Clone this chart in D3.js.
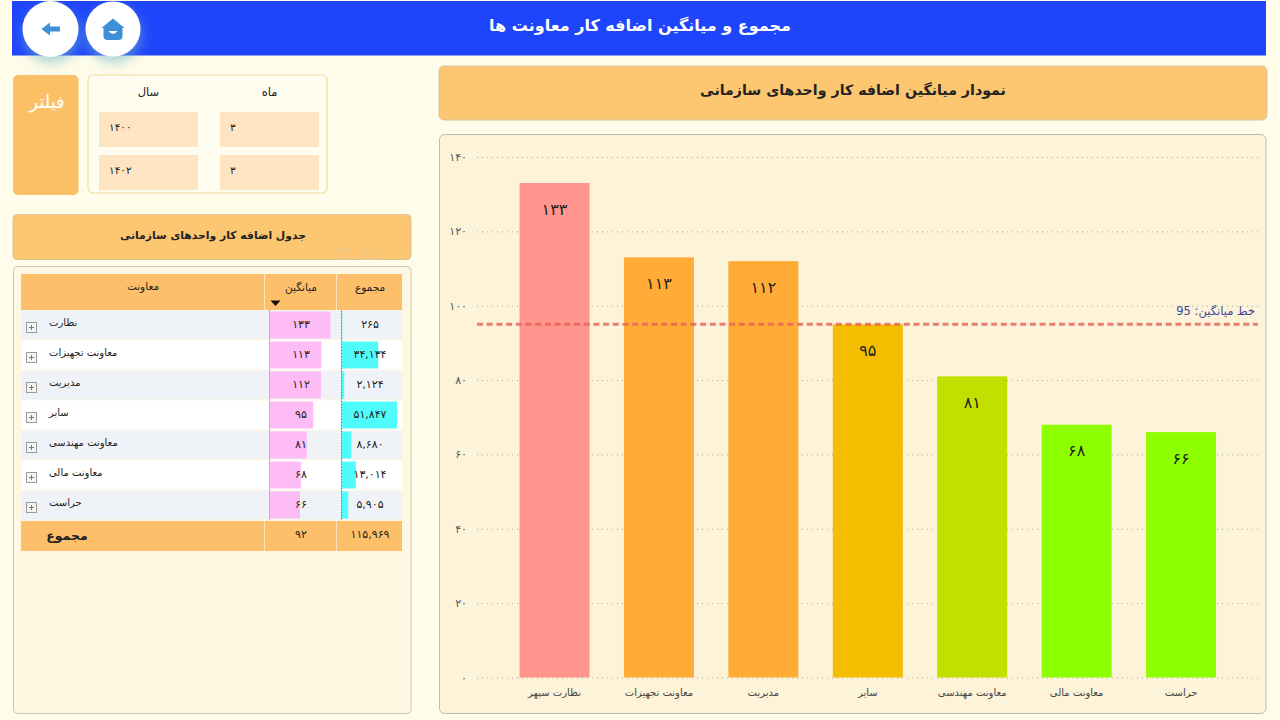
<!DOCTYPE html>
<html lang="fa">
<head>
<meta charset="utf-8">
<title>مجموع و میانگین اضافه کار معاونت ها</title>
<script src="https://cdn.jsdelivr.net/npm/d3@7"></script>
<style>
  html, body { margin: 0; padding: 0; background: #fffce9; overflow: hidden; }
  svg { display: block; }
  text { font-family: "DejaVu Sans", sans-serif; fill: #222; }
</style>
</head>
<body>
<svg id="chart" width="1280" height="720"></svg>
<script>
const pageTitle = "مجموع و میانگین اضافه کار معاونت ها";
const chartTitle = "نمودار میانگین اضافه کار واحدهای سازمانی";
const tableTitle = "جدول اضافه کار واحدهای سازمانی";

const categories = ["نظارت سپهر", "معاونت تجهیزات", "مدیریت", "سایر", "معاونت مهندسی", "معاونت مالی", "حراست"];
const averages = [133, 113, 112, 95, 81, 68, 66];
const barColors = ["#ff958c", "#ffab36", "#ffab36", "#f4be00", "#c1e000", "#8eff00", "#8eff00"];
const yTicks = [0, 20, 40, 60, 80, 100, 120, 140];
const averageLine = 95;

const tableNames = ["نظارت", "معاونت تجهیزات", "مدیریت", "سایر", "معاونت مهندسی", "معاونت مالی", "حراست"];
const totals = [265, 34134, 2124, 51847, 8680, 13014, 5905];
const tableColumns = ["معاونت", "میانگین", "مجموع"];
const footerLabel = "مجموع";
const footerAverage = 92;
const footerTotal = 115969;

const filterLabel = "فیلتر";
const filterColumns = ["سال", "ماه"];
const filterYears = [1400, 1402];
const filterMonths = [3, 3];

const svg = d3.select("#chart");

// Persian digits, the source shows everything but the average label this way
const toFa = v => String(v).replace(/\d/g, c => "۰۱۲۳۴۵۶۷۸۹"[+c]);
const faNum = v => toFa(d3.format(",")(v));

function box(parent, x, y, w, h, fill, stroke, r) {
  return parent.append("rect")
    .attr("x", x).attr("y", y).attr("width", w).attr("height", h)
    .attr("rx", r || 0)
    .attr("fill", fill)
    .attr("stroke", stroke || "none");
}

function label(parent, x, y, str, size, opts) {
  opts = opts || {};
  return parent.append("text")
    .attr("x", x).attr("y", y)
    .attr("text-anchor", opts.anchor || "middle")
    .attr("dominant-baseline", "central")
    .attr("direction", "rtl")
    .attr("font-size", size)
    .attr("font-weight", opts.weight || "normal")
    .style("fill", opts.fill || "#222")
    .text(str);
}

function drawHeader() {
  const defs = svg.append("defs");
  const shadow = defs.append("filter").attr("id", "btnShadow")
    .attr("x", "-50%").attr("y", "-50%").attr("width", "200%").attr("height", "200%");
  shadow.append("feDropShadow")
    .attr("dx", 1).attr("dy", 6).attr("stdDeviation", 6)
    .attr("flood-color", "#6fb6c9").attr("flood-opacity", 0.6);

  box(svg, 12, 1, 1254, 54.5, "#1e45fb");
  label(svg, 640, 25, pageTitle, 16, {weight: "bold", fill: "#fff"});

  svg.append("circle").attr("cx", 50.5).attr("cy", 29).attr("r", 28)
    .attr("fill", "#fff").attr("filter", "url(#btnShadow)");
  svg.append("circle").attr("cx", 113).attr("cy", 29).attr("r", 27.5)
    .attr("fill", "#fff").attr("filter", "url(#btnShadow)");

  // back arrow
  svg.append("path")
    .attr("d", "M41.5 29 L50 22.5 L50 26.5 L60 26.5 L60 31.5 L50 31.5 L50 35.5 Z")
    .attr("fill", "#3d8fd6");
  // home icon
  svg.append("path")
    .attr("d", "M101.5 28 L113 18.5 L124.5 28 L122.5 28 L122.5 36 Q122.5 40 118.5 40 L107.5 40 Q103.5 40 103.5 36 L103.5 28 Z")
    .attr("fill", "#3d8fd6");
  svg.append("path")
    .attr("d", "M108.5 31 Q113 37 117.5 31 Z")
    .attr("fill", "#fff");
}

function drawFilter() {
  box(svg, 13, 75, 65.5, 120, "#fbbf66", "none", 5);
  label(svg, 47, 101, filterLabel, 18, {fill: "#fff"});

  box(svg, 88, 75, 239, 118, "#fffdf0", "#f5dca0", 5).attr("stroke-width", 1.2);

  const cellW = 99;
  [filterYears, filterMonths].forEach((vals, i) => {
    const left = i === 0 ? 99 : 220;
    label(svg, left + cellW / 2, 92, filterColumns[i], 11.5);
    vals.forEach((v, j) => {
      const top = j === 0 ? 112 : 155;
      box(svg, left, top, cellW, 35, "#fde5c3");
      label(svg, left + 10, top + 15, toFa(v), 10.5, {anchor: "start"}).attr("direction", "ltr");
    });
  });
}

function drawTable() {
  box(svg, 13, 214.5, 398, 45, "#fdc670", "#d9c49a", 4);
  label(svg, 213, 235, tableTitle, 10.8, {weight: "bold"});

  // faint toolbar icons showing through under the title box
  const toolbar = svg.append("g").attr("fill", "none").attr("stroke", "#e3c78f");
  toolbar.append("path").attr("d", "M336 249 H350 L345 255 V259 H341 V255 Z");
  toolbar.append("rect").attr("x", 364).attr("y", 250).attr("width", 13).attr("height", 9);
  toolbar.append("path").attr("d", "M392 252 H394 M397 252 H399 M402 252 H404");

  box(svg, 13.5, 266.5, 397.5, 447, "#fef8e3", "#c9c6b4", 4);

  const tableLeft = 21, tableRight = 402, col1 = 264.5, col2 = 336.5;
  const rows = d3.scaleBand().domain(tableNames).range([310.5, 520.5]);
  const avgX = d3.scaleLinear().domain([0, d3.max(averages)]).range([270, 330.5]);
  const sumX = d3.scaleLinear().domain([0, d3.max(totals)]).range([342, 397]);

  // header
  box(svg, tableLeft, 274, tableRight - tableLeft, 36, "#fdbf69");
  label(svg, 143, 286, tableColumns[0], 10.5);
  label(svg, 301, 287, tableColumns[1], 10.5);
  label(svg, 370, 287, tableColumns[2], 10.5);
  svg.append("path").attr("d", "M270.5 300.5 L280.5 300.5 L275.5 306 Z").attr("fill", "#111");

  const row = svg.append("g").attr("class", "rows")
    .selectAll("g")
    .data(tableNames)
    .enter()
    .append("g")
    .attr("transform", d => "translate(0," + rows(d) + ")");

  const h = rows.bandwidth();
  row.append("rect")
    .attr("x", tableLeft).attr("width", tableRight - tableLeft)
    .attr("height", h - 1)
    .attr("fill", (d, i) => i % 2 === 0 ? "#eff3f7" : "#ffffff");

  row.append("rect")
    .attr("x", avgX(0)).attr("y", 1)
    .attr("width", (d, i) => avgX(averages[i]) - avgX(0))
    .attr("height", h - 3)
    .attr("fill", "#fdbcf6");

  row.append("rect")
    .attr("x", sumX(0)).attr("y", 1)
    .attr("width", (d, i) => sumX(totals[i]) - sumX(0))
    .attr("height", h - 3)
    .attr("fill", "#4ffbfb");

  // thin axis marks at the start of each data bar
  row.append("line")
    .attr("x1", avgX(0) - .5).attr("x2", avgX(0) - .5).attr("y1", 0).attr("y2", h - 1)
    .attr("stroke", "#6a6fae").attr("stroke-dasharray", "1 1");
  row.append("line")
    .attr("x1", sumX(0) - .5).attr("x2", sumX(0) - .5).attr("y1", 0).attr("y2", h - 1)
    .attr("stroke", "#2f8fa8").attr("stroke-dasharray", "2 1");

  // expand boxes
  row.append("rect")
    .attr("x", 26.5).attr("y", 12).attr("width", 10).attr("height", 10)
    .attr("fill", "#f5f5f0").attr("stroke", "#9a9a9a");
  row.append("path")
    .attr("d", "M29 17 H34 M31.5 14.5 V19.5")
    .attr("stroke", "#777").attr("fill", "none");

  row.append("text")
    .attr("x", 49).attr("y", 12)
    .attr("dominant-baseline", "central")
    .attr("font-size", 10)
    .attr("direction", "ltr")
    .attr("text-anchor", "start")
    .text(d => d);

  row.append("text")
    .attr("x", 301).attr("y", 13.5)
    .attr("dominant-baseline", "central")
    .attr("text-anchor", "middle")
    .attr("font-size", 11)
    .text((d, i) => faNum(averages[i]));

  row.append("text")
    .attr("x", 370).attr("y", 13.5)
    .attr("dominant-baseline", "central")
    .attr("text-anchor", "middle")
    .attr("font-size", 11)
    .text((d, i) => faNum(totals[i]));

  // footer
  box(svg, tableLeft, 521, tableRight - tableLeft, 30, "#fdbf69");
  label(svg, 67, 535, footerLabel, 12.5, {weight: "bold"});
  label(svg, 301, 534, faNum(footerAverage), 11);
  label(svg, 370, 534, faNum(footerTotal), 11);

  // column separators in header and footer
  [col1, col2].forEach(x => {
    svg.append("line").attr("x1", x).attr("x2", x).attr("y1", 274).attr("y2", 310)
      .attr("stroke", "#fde6bd");
    svg.append("line").attr("x1", x).attr("x2", x).attr("y1", 521).attr("y2", 551)
      .attr("stroke", "#fde6bd");
  });
}

function drawChart() {
  box(svg, 439, 66, 828, 54, "#fdc670", "#d9c49a", 5);
  label(svg, 853, 90, chartTitle, 14.2, {weight: "bold"});

  box(svg, 439.5, 134.5, 826.5, 579, "#fdf3d8", "#bdbcae", 5);

  const y = d3.scaleLinear().domain([0, 140]).range([677.5, 157]);
  const x = d3.scaleBand().domain(categories)
    .range([502.3, 1233.3])
    .paddingInner(0.33)
    .paddingOuter(0.165);

  const yAxis = svg.append("g").attr("class", "y-axis")
    .attr("transform", "translate(477,0)")
    .call(d3.axisLeft(y).tickValues(yTicks).tickFormat(toFa).tickSize(-781).tickPadding(10));
  yAxis.select(".domain").remove();
  yAxis.selectAll(".tick line")
    .attr("stroke", "#a9a795").attr("stroke-dasharray", "1 4");
  yAxis.selectAll(".tick text")
    .attr("font-size", 11)
    .style("font-family", '"DejaVu Sans", sans-serif')
    .style("fill", "#555");

  const xAxis = svg.append("g").attr("class", "x-axis")
    .attr("transform", "translate(0,677.5)")
    .call(d3.axisBottom(x).tickSize(0).tickPadding(8));
  xAxis.select(".domain").remove();
  xAxis.selectAll(".tick text")
    .attr("font-size", 10)
    .attr("dy", "1em")
    .style("font-family", '"DejaVu Sans", sans-serif')
    .style("fill", "#444");

  const color = d3.scaleOrdinal(categories, barColors);

  svg.append("g").attr("class", "bars")
    .selectAll("rect")
    .data(categories)
    .enter()
    .append("rect")
    .attr("x", d => x(d))
    .attr("y", (d, i) => y(averages[i]))
    .attr("width", x.bandwidth())
    .attr("height", (d, i) => y(0) - y(averages[i]))
    .attr("fill", d => color(d));

  svg.append("g").attr("class", "bar-labels")
    .selectAll("text")
    .data(categories)
    .enter()
    .append("text")
    .attr("x", d => x(d) + x.bandwidth() / 2)
    .attr("y", (d, i) => y(averages[i]) + 26)
    .attr("text-anchor", "middle")
    .attr("dominant-baseline", "central")
    .attr("font-size", 16)
    .text((d, i) => faNum(averages[i]));

  svg.append("line")
    .attr("x1", 477).attr("x2", 1258)
    .attr("y1", y(averageLine)).attr("y2", y(averageLine))
    .attr("stroke", "#e4605a")
    .attr("stroke-opacity", 0.8)
    .attr("stroke-width", 3)
    .attr("stroke-dasharray", "6 3.7");

  label(svg, 1255, y(averageLine) - 13, "خط میانگین: " + averageLine, 11.5, {anchor: "start", fill: "#45459c"});
}

drawHeader();
drawFilter();
drawTable();
drawChart();
</script>
</body>
</html>
